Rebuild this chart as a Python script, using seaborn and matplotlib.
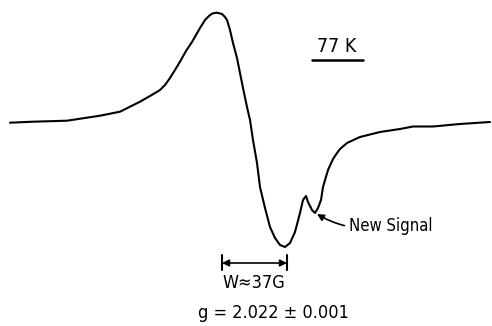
import matplotlib
matplotlib.use("Agg")
import matplotlib.pyplot as plt
import seaborn as sns
import pandas as pd

# EPR derivative trace (horizontal position, signal height; pixel-like units)
field = [10, 33, 67, 100, 120, 140, 150, 160, 165, 170, 175, 180, 186, 192, 195, 200, 205, 210,
         213, 217, 222, 225, 227, 230, 233, 237, 240, 243, 247, 250, 253, 257, 260, 265, 270,
         275, 280, 285, 290, 295, 300, 303, 306, 308, 312, 315, 318, 321, 323, 328, 333, 337,
         340, 347, 360, 380, 400, 413, 433, 460, 490]
signal = [122.7, 121.7, 120.7, 115.7, 111.7, 101.7, 96, 90, 85, 78, 70, 61.7, 51, 42, 36.7, 28, 20, 15,
          13.3, 12.7, 14, 17, 20, 30, 43, 58, 73, 88, 107, 120, 140, 163, 187, 208, 227,
          238, 245, 247, 243, 232, 213, 200, 196, 202, 210, 213, 208, 200, 187, 170, 159, 153,
          149, 143, 137, 132, 129, 126.5, 126.5, 124, 122]

temp_label = "77 K"
signal_label = "New Signal"
width_label = "W\u224837G"
g_label = "g = 2.022 \u00b1 0.001"

df = pd.DataFrame({"field": field, "signal": signal})

sns.set_style("white")
plt.rcParams["font.family"] = ["DejaVu Sans"]

fig = plt.figure(figsize=(4.92, 3.26), dpi=100)
ax = fig.add_axes([0, 0, 1, 1])
sns.lineplot(data=df, x="field", y="signal", ax=ax, color="black", linewidth=1.5, sort=False)
ax.lines[0].set_solid_joinstyle("round")
ax.set_xlim(0, 492)
ax.set_ylim(326, 0)
ax.axis("off")

txt = dict(color="black", fontstretch="condensed")

# temperature label with underline
ax.text(337, 47, temp_label, ha="center", va="center", fontsize=14, **txt)
ax.plot([312, 363], [60, 60], color="black", lw=1.8)

# new signal annotation
ax.annotate(signal_label, xy=(317, 214), xytext=(349, 226), ha="left", va="center",
            fontsize=12, **txt,
            arrowprops=dict(arrowstyle="-|>", color="black", lw=1.2, mutation_scale=10,
                            shrinkA=1, shrinkB=0, connectionstyle="arc3,rad=-0.2"))

# width bar
ax.annotate("", xy=(222, 263), xytext=(287, 263),
            arrowprops=dict(arrowstyle="<|-|>", color="black", lw=1.2, mutation_scale=10,
                            shrinkA=0, shrinkB=0))
ax.plot([222, 222], [255, 270], color="black", lw=1.5)
ax.plot([287, 287], [255, 270], color="black", lw=1.5)
ax.text(254, 283, width_label, ha="center", va="center", fontsize=13, **txt)
ax.text(273, 313, g_label, ha="center", va="center", fontsize=13, **txt)

fig.savefig("out.png", dpi=100)
